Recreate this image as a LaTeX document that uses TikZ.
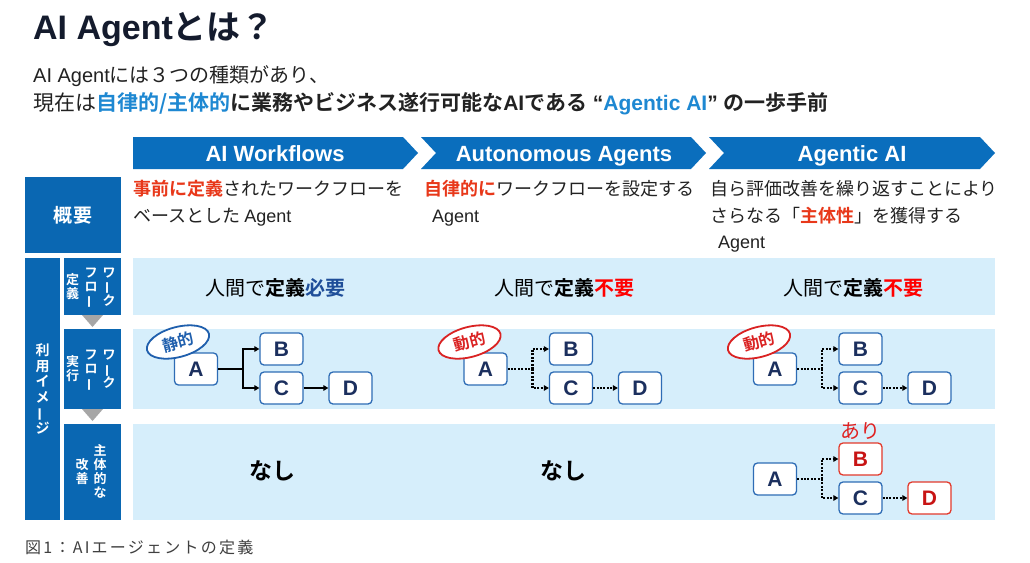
\documentclass[tikz,border=0pt]{standalone}
\usepackage{fontspec}
\usepackage{graphicx}
\setmainfont{Noto Sans CJK JP}[BoldFont={Noto Sans CJK JP Bold}]
\newfontfamily\lat{Liberation Sans}
\newfontfamily\capfont{Noto Sans CJK JP}[LetterSpace=14]
\usetikzlibrary{arrows.meta,shapes.geometric}
\definecolor{hdr}{HTML}{0A6EBD}
\definecolor{lboxc}{HTML}{0A67B2}
\definecolor{bgl}{HTML}{D6EEFB}
\definecolor{tric}{HTML}{A6A6A6}
\definecolor{bxb}{HTML}{2E6CB5}
\definecolor{navyc}{HTML}{1B2F5E}
\definecolor{bxr}{HTML}{E23A2C}
\definecolor{redtx}{HTML}{C81414}
\definecolor{redt}{HTML}{E8381A}
\definecolor{fuyo}{HTML}{FF0000}
\definecolor{hitsu}{HTML}{1F4E99}
\definecolor{subblue}{HTML}{1E88D2}
\definecolor{titlec}{HTML}{141B2D}
\definecolor{txt}{HTML}{222222}
\definecolor{capc}{HTML}{404040}
\definecolor{elrc}{HTML}{DA2222}
\definecolor{elbc}{HTML}{1F5FAD}
\definecolor{arir}{HTML}{E02020}
\newcommand\vlong{\rotatebox[origin=c]{90}{ー}}
\newcommand\vc[1]{\rule[-0.12em]{0pt}{1em}\smash{#1}}
\tikzset{
 lbl/.style={fill=lboxc, text=white, inner sep=0, font=\bfseries},
 vt/.style={inner sep=0, text=white, align=center, font=\bfseries\fontsize{13}{14}\selectfont},
 t1/.style={anchor=base west, inner sep=0, text=txt, font=\fontsize{18}{18}\selectfont},
 t2/.style={inner sep=0, text=black, font=\fontsize{20}{20}\selectfont},
 hdrtext/.style={anchor=base, inner sep=0, text=white, font=\lat\bfseries\fontsize{22}{22}\selectfont},
 fbox/.style={draw=bxb, line width=1.3pt, fill=white, rounded corners=4pt, minimum width=43pt, minimum height=32pt, inner sep=0, text=navyc, font=\lat\bfseries\fontsize{21}{21}\selectfont},
 rbox/.style={fbox, draw=bxr, text=redtx},
 sconn/.style={line width=1.8pt, black},
 dconn/.style={line width=2.4pt, black, dash pattern=on 2pt off 1.4pt},
 arr/.style={-{Triangle[length=5pt,width=5.5pt]}},
 elbst/.style={ellipse, draw=elbc, line width=1.8pt, fill=white, minimum width=64pt, minimum height=30pt, inner sep=0, rotate=15, text=elbc, font=\bfseries\fontsize{16}{16}\selectfont},
 elrst/.style={elbst, draw=elrc, text=elrc},
 nashi/.style={inner sep=0, text=black, font=\bfseries\fontsize{23}{23}\selectfont},
}
\begin{document}
\begin{tikzpicture}[x=1pt,y=-1pt]
\useasboundingbox[fill=white] (0,0) rectangle (1030,562);
% title
\node[anchor=west, inner sep=0, text=titlec, font=\bfseries\fontsize{34}{34}\selectfont] (title) at (33,30) {{\lat AI Agent}とは？};
\node[anchor=base west, inner sep=0, text=txt, font=\fontsize{20}{20}\selectfont] (sub1) at (33,82) {{\lat AI Agent}には３つの種類があり、};
\node[anchor=base west, inner sep=0, text=txt, font=\fontsize{21}{21}\selectfont] (sub2) at (33,110) {現在は\textbf{\textcolor{subblue}{自律的/主体的}に業務やビジネス遂行可能な{\lat AI}である{\lat\ “\textcolor{subblue}{Agentic AI}” }の一歩手前}};
% header arrows
\fill[hdr] (133,137) -- (403,137) -- (418,153) -- (403,169) -- (133,169) -- cycle;
\fill[hdr] (421,137) -- (691,137) -- (706,153) -- (691,169) -- (421,169) -- (436,153) -- cycle;
\fill[hdr] (709,137) -- (980,137) -- (995,153) -- (980,169) -- (709,169) -- (724,153) -- cycle;
\node[hdrtext] (h1) at (275,161) {AI Workflows};
\node[hdrtext] (h2) at (564,161) {Autonomous Agents};
\node[hdrtext] (h3) at (852,161) {Agentic AI};
% left labels
\node[lbl, minimum width=96pt, minimum height=76pt, font=\bfseries\fontsize{19}{19}\selectfont] (gaiyo) at (73,215) {概\hspace{2pt}要};
\node[lbl, minimum width=35pt, minimum height=262pt] (riyou) at (42.5,389) {};
\node[vt, font=\bfseries\fontsize{14}{15.5}\selectfont] (riyout) at (42.5,389) {\vc{利}\\\vc{用}\\\vc{イ}\\\vc{メ}\\\vc{\vlong}\\\vc{ジ}};
\node[lbl, minimum width=57pt, minimum height=57pt] (l2) at (92.5,286.5) {};
\node[lbl, minimum width=57pt, minimum height=80pt] (l3) at (92.5,369) {};
\node[lbl, minimum width=57pt, minimum height=96pt] (l4) at (92.5,472) {};
\node[vt] (l2a) at (109,286.5) {\vc{ワ}\\\vc{\vlong}\\\vc{ク}};
\node[vt] (l2b) at (91,286.5) {\vc{フ}\\\vc{ロ}\\\vc{\vlong}};
\node[vt] (l2c) at (72.5,286.5) {\vc{定}\\\vc{義}};
\node[vt] (l3a) at (109,369) {\vc{ワ}\\\vc{\vlong}\\\vc{ク}};
\node[vt] (l3b) at (91,369) {\vc{フ}\\\vc{ロ}\\\vc{\vlong}};
\node[vt] (l3c) at (72.5,369) {\vc{実}\\\vc{行}};
\node[vt] (l4a) at (100,472) {\vc{主}\\\vc{体}\\\vc{的}\\\vc{な}};
\node[vt] (l4b) at (82,472) {\vc{改}\\\vc{善}};
\fill[tric] (82,315) -- (103,315) -- (92.5,327) -- cycle;
\fill[tric] (82,409) -- (103,409) -- (92.5,421) -- cycle;
% backgrounds
\fill[bgl] (133,258) rectangle (995,315);
\fill[bgl] (133,329) rectangle (995,409);
\fill[bgl] (133,424) rectangle (995,520);
% row 1
\node[t1] (r1a1) at (133,195) {\textcolor{redt}{\textbf{事前に定義}}されたワークフローを};
\node[t1] (r1a2) at (133,222) {ベースとした {\lat Agent}};
\node[t1] (r1b1) at (424,195) {\textcolor{redt}{\textbf{自律的に}}ワークフローを設定する};
\node[t1] (r1b2) at (432,222) {{\lat Agent}};
\node[t1] (r1c1) at (710,195) {自ら評価改善を繰り返すことにより};
\node[t1] (r1c2) at (710,222) {さらなる「\textcolor{redt}{\textbf{主体性}}」を獲得する};
\node[t1] (r1c3) at (718,248) {{\lat Agent}};
% row 2
\node[t2] (r2a) at (275,288) {人間で\textbf{定義\textcolor{hitsu}{必要}}};
\node[t2] (r2b) at (564,288) {人間で\textbf{定義\textcolor{fuyo}{不要}}};
\node[t2] (r2c) at (853,288) {人間で\textbf{定義\textcolor{fuyo}{不要}}};
% row 3 col 1
\node[fbox] (a1) at (196,369) {A};
\node[fbox] (b1) at (281.5,349) {B};
\node[fbox] (c1) at (281.5,388) {C};
\node[fbox] (d1) at (350.5,388) {D};
\coordinate (j1) at (243,369);
\draw[sconn] (a1) -- (j1);
\draw[sconn,arr] (j1) |- (b1);
\draw[sconn,arr] (j1) |- (c1);
\draw[sconn,arr] (c1) -- (d1);
\node[elbst] (e1) at (178,342) {静的};
% row 3 col 2
\node[fbox] (a2) at (485.5,369) {A};
\node[fbox] (b2) at (571,349) {B};
\node[fbox] (c2) at (571,388) {C};
\node[fbox] (d2) at (640,388) {D};
\coordinate (j2) at (532.5,369);
\draw[dconn] (a2) -- (j2);
\draw[dconn,arr] (j2) |- (b2);
\draw[dconn,arr] (j2) |- (c2);
\draw[dconn,arr] (c2) -- (d2);
\node[elrst] (e2) at (469.5,342) {動的};
% row 3 col 3
\node[fbox] (a3) at (775,369) {A};
\node[fbox] (b3) at (860.5,349) {B};
\node[fbox] (c3) at (860.5,388) {C};
\node[fbox] (d3) at (929.5,388) {D};
\coordinate (j3) at (822,369);
\draw[dconn] (a3) -- (j3);
\draw[dconn,arr] (j3) |- (b3);
\draw[dconn,arr] (j3) |- (c3);
\draw[dconn,arr] (c3) -- (d3);
\node[elrst] (e3) at (759,342) {動的};
% row 4
\node[nashi] (n1) at (272,471) {なし};
\node[nashi] (n2) at (563,471) {なし};
\node[fbox] (a4) at (775,479) {A};
\node[rbox] (b4) at (860.5,459) {B};
\node[fbox] (c4) at (860.5,498) {C};
\node[rbox] (d4) at (929.5,498) {D};
\coordinate (j4) at (822,479);
\draw[dconn] (a4) -- (j4);
\draw[dconn,arr] (j4) |- (b4);
\draw[dconn,arr] (j4) |- (c4);
\draw[dconn,arr] (c4) -- (d4);
\node[inner sep=0, text=arir, font=\fontsize{20}{20}\selectfont] (ari) at (860.5,431) {あり};
% caption
\node[anchor=west, inner sep=0, text=capc, font=\capfont\fontsize{16}{16}\selectfont] (cap) at (25,547) {図1：AIエージェントの定義};
\end{tikzpicture}
\end{document}
